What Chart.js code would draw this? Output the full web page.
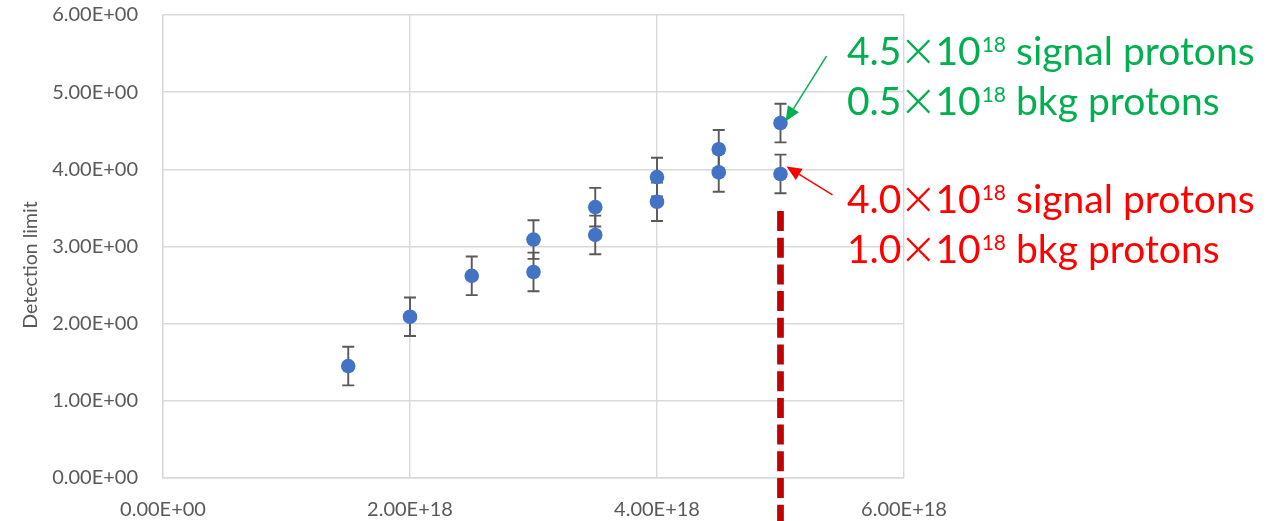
<!DOCTYPE html>
<html>
<head>
<meta charset="utf-8">
<script src="https://cdn.jsdelivr.net/npm/chart.js@4.4.0/dist/chart.umd.min.js"></script>
<style>
  html, body { margin: 0; padding: 0; background: #ffffff; }
  #wrap { width: 1271px; height: 521px; }
</style>
</head>
<body>
<div id="wrap"><canvas id="chart" width="1271" height="521"></canvas></div>
<script>
// Axis ticks
const xTicks = [0, 2e18, 4e18, 6e18];
const yTicks = [0, 1, 2, 3, 4, 5, 6];

// Total protons on target and the detection limits (two signal/background splits)
const protons = [1.5e18, 2e18, 2.5e18, 3e18, 3.5e18, 4e18, 4.5e18, 5e18];
const limitUpper = [1.45, 2.09, 2.62, 3.09, 3.51, 3.90, 4.26, 4.60];
const errUpper   = [0.25, 0.25, 0.25, 0.25, 0.25, 0.25, 0.25, 0.25];
const limitLower = [null, null, null, 2.67, 3.15, 3.58, 3.96, 3.94];
const errLower   = [null, null, null, 0.25, 0.25, 0.25, 0.25, 0.25];

// Vertical cut at the nominal beam exposure
const cutoffX = 5e18;
const cutoffFromY = 3.46;

// Callouts: [signal, background] protons (×10^18)
const calloutGreen = ['4.5', '0.5'];
const calloutRed = ['4.0', '1.0'];

const AXIS_GREY = '#595959';
const GRID_GREY = '#d9d9d9';
const POINT_BLUE = '#4472c4';
const FONT = 'Lato, "Open Sans", sans-serif';

function sciLabel(v) {
  const [m, e] = Number(v).toExponential(2).split('e');
  const sign = e[0] === '-' ? '-' : '+';
  const digits = e.replace(/[+-]/, '').padStart(2, '0');
  return m + 'E' + sign + digits;
}

function toPoints(xs, ys, errs) {
  const pts = [], e = [];
  xs.forEach((x, i) => {
    if (ys[i] !== null) { pts.push({ x: x, y: ys[i] }); e.push(errs[i]); }
  });
  return { pts, e };
}

const upper = toPoints(protons, limitUpper, errUpper);
const lower = toPoints(protons, limitLower, errLower);

const errorBars = {
  id: 'errorBars',
  beforeDatasetsDraw(chart) {
    const { ctx, scales: { x, y } } = chart;
    ctx.save();
    ctx.strokeStyle = AXIS_GREY;
    ctx.lineWidth = 1.9;
    chart.data.datasets.forEach(ds => {
      ds.data.forEach((p, i) => {
        const e = ds.errors[i];
        const px = x.getPixelForValue(p.x);
        const top = y.getPixelForValue(p.y + e);
        const bot = y.getPixelForValue(p.y - e);
        ctx.beginPath();
        ctx.moveTo(px, top); ctx.lineTo(px, bot);
        ctx.moveTo(px - 6, top); ctx.lineTo(px + 6, top);
        ctx.moveTo(px - 6, bot); ctx.lineTo(px + 6, bot);
        ctx.stroke();
      });
    });
    ctx.restore();
  }
};

function drawArrow(ctx, x0, y0, x1, y1, color) {
  const ang = Math.atan2(y1 - y0, x1 - x0);
  const len = 15, half = 6.5;
  const bx = x1 - len * Math.cos(ang), by = y1 - len * Math.sin(ang);
  ctx.save();
  ctx.strokeStyle = color;
  ctx.fillStyle = color;
  ctx.lineWidth = 1.5;
  ctx.beginPath();
  ctx.moveTo(x0, y0);
  ctx.lineTo(bx, by);
  ctx.stroke();
  ctx.beginPath();
  ctx.moveTo(x1, y1);
  ctx.lineTo(bx + half * Math.sin(ang), by - half * Math.cos(ang));
  ctx.lineTo(bx - half * Math.sin(ang), by + half * Math.cos(ang));
  ctx.closePath();
  ctx.fill();
  ctx.restore();
}

function drawCalloutLine(ctx, x, baseline, lead, tail, color) {
  const big = 39, small = 21;
  ctx.save();
  ctx.fillStyle = color;
  ctx.textBaseline = 'alphabetic';
  ctx.textAlign = 'left';
  ctx.font = big + 'px ' + FONT;
  ctx.fillText(lead, x, baseline);
  let cx = x + ctx.measureText(lead).width;

  // wide, light multiplication sign, centred in its own slot
  ctx.font = '200 46px "DejaVu Sans", sans-serif';
  const m = ctx.measureText('\u00d7');
  const inkW = m.actualBoundingBoxLeft + m.actualBoundingBoxRight;
  const inkMid = (m.actualBoundingBoxAscent - m.actualBoundingBoxDescent) / 2;
  const slot = 34;
  ctx.fillText('\u00d7', cx + (slot - inkW) / 2 + m.actualBoundingBoxLeft, baseline - 14 + inkMid);
  cx += slot;

  ctx.font = big + 'px ' + FONT;
  ctx.fillText('10', cx, baseline);
  cx += ctx.measureText('10').width;
  ctx.font = small + 'px ' + FONT;
  ctx.fillText('18', cx + 1, baseline - 13.3);
  cx += ctx.measureText('18').width + 1;
  ctx.font = big + 'px ' + FONT;
  ctx.fillText(tail, cx, baseline);
  ctx.restore();
}

const annotations = {
  id: 'annotations',
  afterDraw(chart) {
    const { ctx, scales: { x, y } } = chart;

    // y-axis title
    ctx.save();
    ctx.translate(31, 265);
    ctx.rotate(-Math.PI / 2);
    ctx.fillStyle = AXIS_GREY;
    ctx.font = '19.5px ' + FONT;
    ctx.textAlign = 'center';
    ctx.textBaseline = 'middle';
    ctx.fillText('Detection limit', 0, 0);
    ctx.restore();

    // dashed vertical cut
    const cx = x.getPixelForValue(cutoffX);
    ctx.save();
    ctx.strokeStyle = '#c00000';
    ctx.lineWidth = 6.7;
    ctx.lineCap = 'butt';
    ctx.setLineDash([20, 6.7]);
    ctx.beginPath();
    ctx.moveTo(cx, y.getPixelForValue(cutoffFromY));
    ctx.lineTo(cx, chart.height);
    ctx.stroke();
    ctx.restore();

    // arrows pointing at the last two points
    const gx = x.getPixelForValue(protons[7]);
    const gy = y.getPixelForValue(limitUpper[7]);
    const ry = y.getPixelForValue(limitLower[7]);
    drawArrow(ctx, gx + 46, gy - 67, gx + 5, gy - 1.5, '#00b050');
    drawArrow(ctx, gx + 52, ry + 21, gx + 6, ry - 7.5, '#ff0000');

    // callout text
    drawCalloutLine(ctx, 847, 65, calloutGreen[0], ' signal protons', '#00b050');
    drawCalloutLine(ctx, 847, 115, calloutGreen[1], ' bkg protons', '#00b050');
    drawCalloutLine(ctx, 847, 213, calloutRed[0], ' signal protons', '#ff0000');
    drawCalloutLine(ctx, 847, 263, calloutRed[1], ' bkg protons', '#ff0000');
  }
};

Chart.defaults.font.family = FONT;

new Chart(document.getElementById('chart'), {
  type: 'scatter',
  data: {
    datasets: [
      { label: 'upper', data: upper.pts, errors: upper.e,
        backgroundColor: POINT_BLUE, borderWidth: 0, pointRadius: 7.3, pointHoverRadius: 7.3 },
      { label: 'lower', data: lower.pts, errors: lower.e,
        backgroundColor: POINT_BLUE, borderWidth: 0, pointRadius: 7.3, pointHoverRadius: 7.3 }
    ]
  },
  options: {
    responsive: false,
    animation: false,
    devicePixelRatio: 1,
    layout: { padding: { top: 15, right: 367, left: 0, bottom: 0 } },
    plugins: { legend: { display: false }, tooltip: { enabled: false } },
    scales: {
      x: {
        type: 'linear', min: 0, max: 6e18,
        afterBuildTicks: s => { s.ticks = xTicks.map(v => ({ value: v })); },
        afterFit: s => { s.height = 43; },
        grid: { color: GRID_GREY, lineWidth: 1.4, drawTicks: false },
        border: { color: GRID_GREY, width: 1.4 },
        ticks: { padding: 20, color: AXIS_GREY, font: { size: 20 }, maxRotation: 0, autoSkip: false,
                 callback: v => sciLabel(v) }
      },
      y: {
        type: 'linear', min: 0, max: 6,
        afterBuildTicks: s => { s.ticks = yTicks.map(v => ({ value: v })); },
        afterFit: s => { s.width = 163; s.paddingTop = 12; s.paddingBottom = 12; },
        grid: { color: GRID_GREY, lineWidth: 1.4, drawTicks: false },
        border: { color: GRID_GREY, width: 1.4 },
        ticks: { padding: 25, color: AXIS_GREY, font: { size: 20 }, callback: v => sciLabel(v) }
      }
    }
  },
  plugins: [errorBars, annotations]
});
</script>
</body>
</html>
